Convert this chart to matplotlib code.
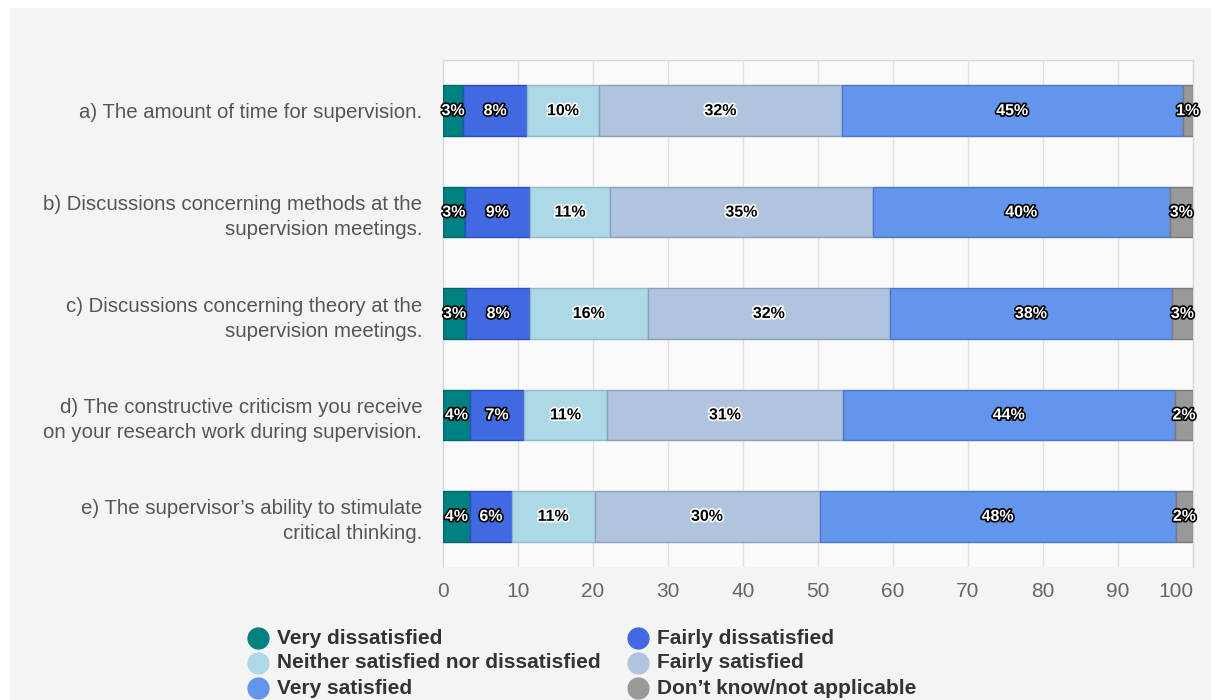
import matplotlib
matplotlib.use("Agg")
import matplotlib.pyplot as plt
import matplotlib.patheffects as pe
from matplotlib.lines import Line2D
from matplotlib.patches import Rectangle

plt.rcParams['font.family'] = ['Liberation Sans', 'DejaVu Sans']

# questions (top to bottom)
questions = [
    "a) The amount of time for supervision.",
    "b) Discussions concerning methods at the\nsupervision meetings.",
    "c) Discussions concerning theory at the\nsupervision meetings.",
    "d) The constructive criticism you receive\non your research work during supervision.",
    "e) The supervisor\u2019s ability to stimulate\ncritical thinking.",
]

answers = ["Very dissatisfied", "Fairly dissatisfied",
           "Neither satisfied nor dissatisfied", "Fairly satisfied",
           "Very satisfied", "Don\u2019t know/not applicable"]

# percentages per answer, one value per question
very_dissatisfied = [2.7, 2.9, 3.1, 3.6, 3.6]
fairly_dissatisfied = [8.5, 8.7, 8.5, 7.2, 5.6]
neither = [9.6, 10.7, 15.7, 11.1, 11.0]
fairly_satisfied = [32.4, 35.0, 32.3, 31.4, 30.0]
very_satisfied = [45.4, 39.6, 37.6, 44.3, 47.5]
dont_know = [1.4, 3.1, 2.8, 2.4, 2.3]

series = [very_dissatisfied, fairly_dissatisfied, neither,
          fairly_satisfied, very_satisfied, dont_know]
colors = ['#008080', '#4169e1', '#add8e6', '#b0c4de', '#6495ed', '#999999']
edges = ['#006666', '#2a4fc0', '#8fb8c8', '#8aa0bb', '#4a78cc', '#7a7a7a']
dark_text = [False, False, True, True, False, False]

fig = plt.figure(figsize=(12.11, 7), dpi=100, facecolor='white')
# light gray panel behind the chart
fig.add_artist(Rectangle((10 / 1211, 0), 1, 1 - 8 / 700, transform=fig.transFigure,
                         facecolor='#f4f4f4', edgecolor='none', zorder=-10))

ax = fig.add_axes([443 / 1211, 1 - 567 / 700, 750 / 1211, 507 / 700])
ax.set_facecolor('#fafafa')

ypos = list(range(len(questions)))
left = [0.0] * len(questions)
for vals, col, ec, dark in zip(series, colors, edges, dark_text):
    bars = ax.barh(ypos, vals, left=left, height=0.5, color=col,
                   edgecolor=ec, linewidth=1, zorder=3)
    for b, v in zip(bars, vals):
        cx = b.get_x() + b.get_width() / 2
        if dark:
            txt_col, stroke = 'black', 'white'
        else:
            txt_col, stroke = 'white', 'black'
        ax.text(cx, b.get_y() + b.get_height() / 2, f"{round(v)}%",
                ha='center', va='center', fontsize=11.5, fontweight='bold',
                color=txt_col, zorder=5,
                path_effects=[pe.withStroke(linewidth=2.4, foreground=stroke)])
    left = [l + v for l, v in zip(left, vals)]

ax.set_xlim(0, 100)
ax.set_ylim(len(questions) - 0.5, -0.5)
ax.set_xticks(range(0, 101, 10))
ax.set_yticks(ypos)
ax.set_yticklabels(questions, fontsize=14.7, color='#555555', linespacing=1.4)
ax.tick_params(axis='x', labelsize=15, colors='#666666', length=0, pad=11)
ax.tick_params(axis='y', length=0, pad=15)
for lab in ax.get_yticklabels():
    lab.set_horizontalalignment('right')
ax.get_xticklabels()[-1].set_horizontalalignment('right')
ax.grid(axis='x', color='#e2e2e2', linewidth=1, zorder=0)
for name, sp in ax.spines.items():
    sp.set_color('#d5dbe3')
    sp.set_linewidth(1)
ax.spines['bottom'].set_visible(False)

# legend, laid out in two columns below the chart
leg_x = [258, 638]
leg_y = [638, 663, 688]
for i, (name, col) in enumerate(zip(answers, colors)):
    row, c = divmod(i, 2)
    x = leg_x[c] / 1211
    y = 1 - leg_y[row] / 700
    fig.add_artist(Line2D([x], [y], marker='o', markersize=15, color=col,
                          linestyle='none', transform=fig.transFigure))
    fig.text(x + 19 / 1211, y, name, fontsize=15, fontweight='bold',
             color='#333333', va='center', ha='left')

fig.savefig('out.png', dpi=100, facecolor=fig.get_facecolor())
